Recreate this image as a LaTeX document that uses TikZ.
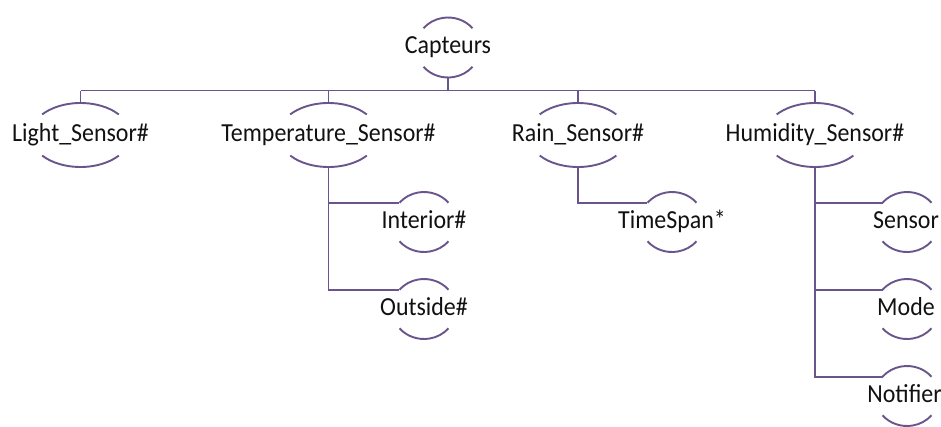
\documentclass[tikz,border=0pt]{standalone}
\usepackage{fontspec}
\setmainfont[FakeStretch=0.92]{Carlito}
\usetikzlibrary{calc}
\definecolor{edgecol}{RGB}{106,84,140}
\definecolor{inkcol}{RGB}{17,17,17}
\tikzset{
  wire/.style={draw=edgecol, line width=1.9pt},
  bracket/.style={draw=edgecol, line width=1.9pt},
  ftext/.style={text=inkcol, inner sep=0pt, anchor=base, font=\fontsize{26}{31}\selectfont},
}
% feature: name, x, y, label, x radius, y radius, text shift
\newcommand\featnode[7]{%
  \coordinate (#1-c) at (#2pt,#3pt);
  \coordinate (#1-top) at ($(#1-c)+(0,#6pt)$);
  \coordinate (#1-bot) at ($(#1-c)+(0,-#6pt)$);
  \coordinate (#1-in) at ($(#1-c)+(140:#5pt and #6pt)$);
  \node[ftext] (#1) at ($(#1-c)+(#7pt,-6pt)$) {#4};
  \draw[bracket] ($(#1-c)+(40:#5pt and #6pt)$) arc[start angle=40, end angle=140, x radius=#5pt, y radius=#6pt];
  \draw[bracket] ($(#1-c)+(220:#5pt and #6pt)$) arc[start angle=220, end angle=320, x radius=#5pt, y radius=#6pt];
}
\begin{document}
\begin{tikzpicture}
\useasboundingbox (0,0) rectangle (941pt,-426pt);
% root
\featnode{cap}{448}{-47.5}{Capteurs}{32}{30}{0}
% first level
\featnode{light}{80.5}{-135}{Light\_Sensor\#}{50}{32}{0}
\featnode{temp}{328.5}{-135}{Temperature\_Sensor\#}{50}{32}{0}
\featnode{rain}{578}{-135}{Rain\_Sensor\#}{50}{32}{0}
\featnode{hum}{815}{-135}{Humidity\_Sensor\#}{50}{32}{0}
% second level
\featnode{int}{424}{-222}{Interior\#}{32}{30}{0}
\featnode{out}{424}{-309}{Outside\#}{32}{30}{0}
\featnode{span}{672}{-222}{TimeSpan*}{32}{30}{0}
\featnode{sens}{907}{-222}{Sensor}{32}{30}{-1}
\featnode{mode}{907}{-309}{Mode}{32}{30}{-1}
\featnode{notif}{907}{-396}{Notifier}{32}{30}{-2.5}
% bus below the root
\coordinate (bus) at (0,-90.5pt);
\draw[wire] (cap-bot) -- (cap-bot |- bus);
\draw[wire] (light-top |- bus) -- (hum-top |- bus);
\foreach \n in {light,temp,rain,hum} {
  \draw[wire] (\n-top) -- (\n-top |- bus);
}
% side branches
\draw[wire] (temp-bot) |- (int-in);
\draw[wire] (temp-bot) |- (out-in);
\draw[wire] (rain-bot) |- (span-in);
\draw[wire] (hum-bot) |- (sens-in);
\draw[wire] (hum-bot) |- (mode-in);
\draw[wire] (hum-bot) |- (notif-in);
\end{tikzpicture}
\end{document}
